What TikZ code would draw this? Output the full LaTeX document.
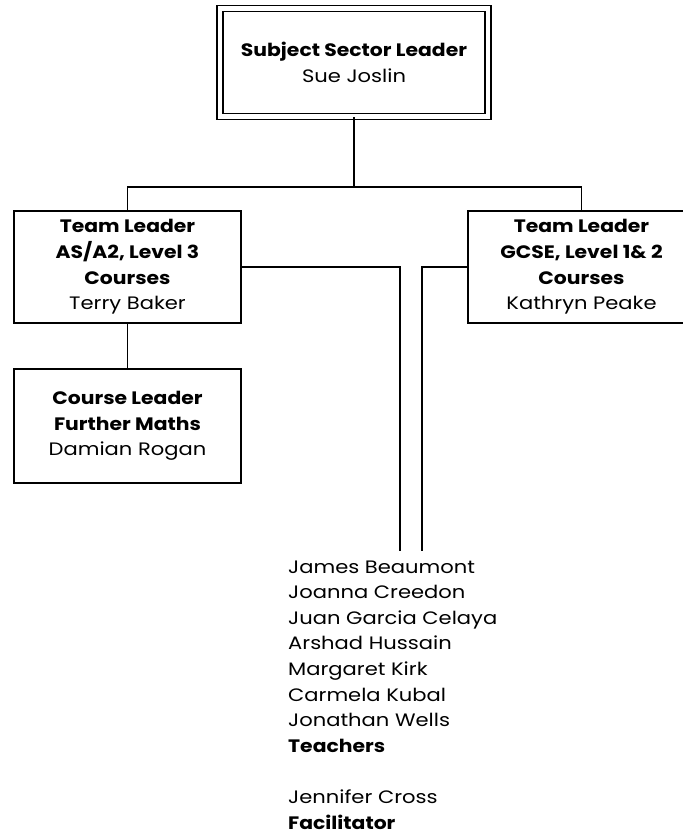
\documentclass[tikz,border=0pt]{standalone}
\usepackage{fontspec}
\setmainfont{Poppins}[FakeStretch=1.17, BoldFeatures={FakeStretch=1.13}]
\begin{document}
\begin{tikzpicture}[x=1pt,y=-1pt,
  txt/.style={font=\fontsize{18}{25.6}\selectfont},
  box/.style={draw, line width=1.4pt, inner sep=0pt, align=center, txt,
              minimum width=227pt, minimum height=112pt},
  conn/.style={line width=1.4pt}]
\useasboundingbox (0,0) rectangle (683,836);
\node[txt, anchor=base west, align=left, inner sep=0pt] (list) at (288,829)
  {James Beaumont\\Joanna Creedon\\Juan Garcia Celaya\\Arshad Hussain\\Margaret Kirk\\Carmela Kubal\\Jonathan Wells\\\textbf{Teachers}\\[25.6pt]Jennifer Cross\\\textbf{Facilitator}};
\begin{scope}
\clip (0,0) rectangle (683,836);
\node[draw, double, double distance=4.6pt, line width=1.4pt, inner sep=0pt,
      align=center, txt, minimum width=268pt, minimum height=108pt]
  (top) at (354,62.5) {\textbf{Subject Sector Leader}\\Sue Joslin};
\node[box] (tl) at (127.5,267) {\textbf{Team Leader}\\\textbf{AS/A2, Level 3}\\\textbf{Courses}\\Terry Baker};
\node[box] (tr) at (581.5,267) {\textbf{Team Leader}\\\textbf{GCSE, Level 1\& 2}\\\textbf{Courses}\\Kathryn Peake};
\node[box, minimum height=114pt] (cl) at (127.5,426) {\textbf{Course Leader}\\\textbf{Further Maths}\\Damian Rogan};
\coordinate (hl) at (127.5,187);
\coordinate (hr) at (581.5,187);
\coordinate (a1) at (400,551);
\coordinate (a2) at (422,551);
\draw[conn] (top.south) -- (top.south |- hl);
\draw[conn] (tl.north) -- (hl) -- (hr) -- (tr.north);
\draw[conn] (tl.south) -- (cl.north);
\draw[conn] (tl.east) -- (tl.east -| a1) -- (a1);
\draw[conn] (tr.west) -- (tr.west -| a2) -- (a2);
\end{scope}
\end{tikzpicture}
\end{document}
